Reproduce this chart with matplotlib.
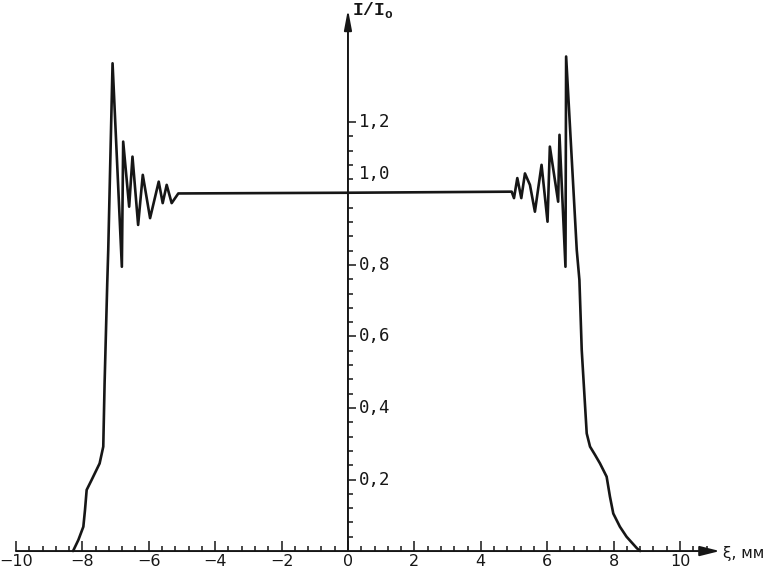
import numpy as np
import matplotlib
matplotlib.use('Agg')
import matplotlib.pyplot as plt

# curve: xi in mm, relative intensity I/I0
xi = [-8.28, -8.12, -7.97, -7.92, -7.87, -7.72, -7.48, -7.37, -7.33, -7.25, -7.22, -7.09,
      -6.81, -6.77, -6.59, -6.49, -6.32, -6.18, -5.96, -5.70, -5.58, -5.46, -5.31, -5.11,
      0.0, 4.93, 5.00, 5.10, 5.22, 5.33, 5.48, 5.63, 5.83, 6.01, 6.08, 6.33, 6.37, 6.55, 6.57,
      6.89, 6.97, 7.04, 7.19, 7.29, 7.44, 7.59, 7.79, 7.89, 7.99, 8.19, 8.39, 8.70, 8.80]
intensity = [0.0, 0.031, 0.068, 0.115, 0.171, 0.199, 0.245, 0.292, 0.469, 0.749, 0.842, 1.364,
             0.795, 1.145, 0.963, 1.103, 0.912, 1.052, 0.931, 1.033, 0.973, 1.024, 0.973, 1.0,
             1.002, 1.005, 0.987, 1.043, 0.987, 1.056, 1.024, 0.949, 1.08, 0.921, 1.131, 0.977,
             1.164, 0.795, 1.383,
             0.842, 0.758, 0.562, 0.329, 0.292, 0.269, 0.245, 0.208, 0.152, 0.105, 0.068, 0.04,
             0.008, 0.0]

xticks_major = np.arange(-10, 11, 2)
xticks_minor = np.arange(-10, 11.0, 0.4)
yticks_major = [0.2, 0.4, 0.6, 0.8, 1.0, 1.2]
ytick_labels = ['0,2', '0,4', '0,6', '0,8', '1,0', '1,2']
yticks_minor = np.arange(0.04, 1.21, 0.04)

ink = '#161616'

fig = plt.figure(figsize=(7.69, 5.70), dpi=100)
ax = fig.add_axes([0, 0, 1, 1])
ax.set_xlim(-10.48, 12.68)
ax.set_ylim(-0.053, 1.541)

# axes cross at the origin, drawn by hand with arrows
for s in ['top', 'right', 'bottom', 'left']:
    ax.spines[s].set_visible(False)
ax.spines['bottom'].set_position(('data', 0))
ax.spines['left'].set_position(('data', 0))

ax.annotate('', xy=(11.2, 0), xytext=(-10, 0),
            arrowprops=dict(arrowstyle='-|>,head_length=0.8,head_width=0.2',
                            lw=1.4, color=ink, shrinkA=0, shrinkB=0, mutation_scale=15))
ax.annotate('', xy=(0, 1.515), xytext=(0, 0),
            arrowprops=dict(arrowstyle='-|>,head_length=0.8,head_width=0.15',
                            lw=1.4, color=ink, shrinkA=0, shrinkB=0, mutation_scale=15))

ax.set_xticks(xticks_major)
ax.set_xticks(xticks_minor, minor=True)
ax.tick_params(axis='x', which='major', direction='in', length=7, width=1.1, pad=2,
               labelsize=11.5, colors=ink)
ax.tick_params(axis='x', which='minor', direction='in', length=3.5, width=1.1, colors=ink)

ax.set_yticks(yticks_major)
ax.set_yticks(yticks_minor, minor=True)
ax.tick_params(axis='y', which='major', direction='in', length=6, width=1.1,
               labelleft=False, colors=ink)
ax.tick_params(axis='y', which='minor', direction='in', length=3.5, width=1.1, colors=ink)

for v, lab in zip(yticks_major, ytick_labels):
    dy = 14 if lab == '1,0' else 0  # original label sits above the curve
    ax.annotate(lab, xy=(0, v), xytext=(8, dy), textcoords='offset points',
                va='center', ha='left', fontsize=12.5, family='DejaVu Sans Mono', color=ink)

ax.plot(xi, intensity, color=ink, lw=1.9, solid_joinstyle='round', solid_capstyle='round')

ax.annotate(r'I/I$_\mathregular{o}$', xy=(0, 1.499), xytext=(3, 0), textcoords='offset points',
            va='baseline', ha='left', fontsize=13, family='Liberation Mono',
            fontweight='bold', color=ink)
ax.text(11.3, -0.006, 'ξ, мм', va='center', ha='left', fontsize=11, color=ink)

plt.savefig('out.png', dpi=100, facecolor='white')
plt.close()
